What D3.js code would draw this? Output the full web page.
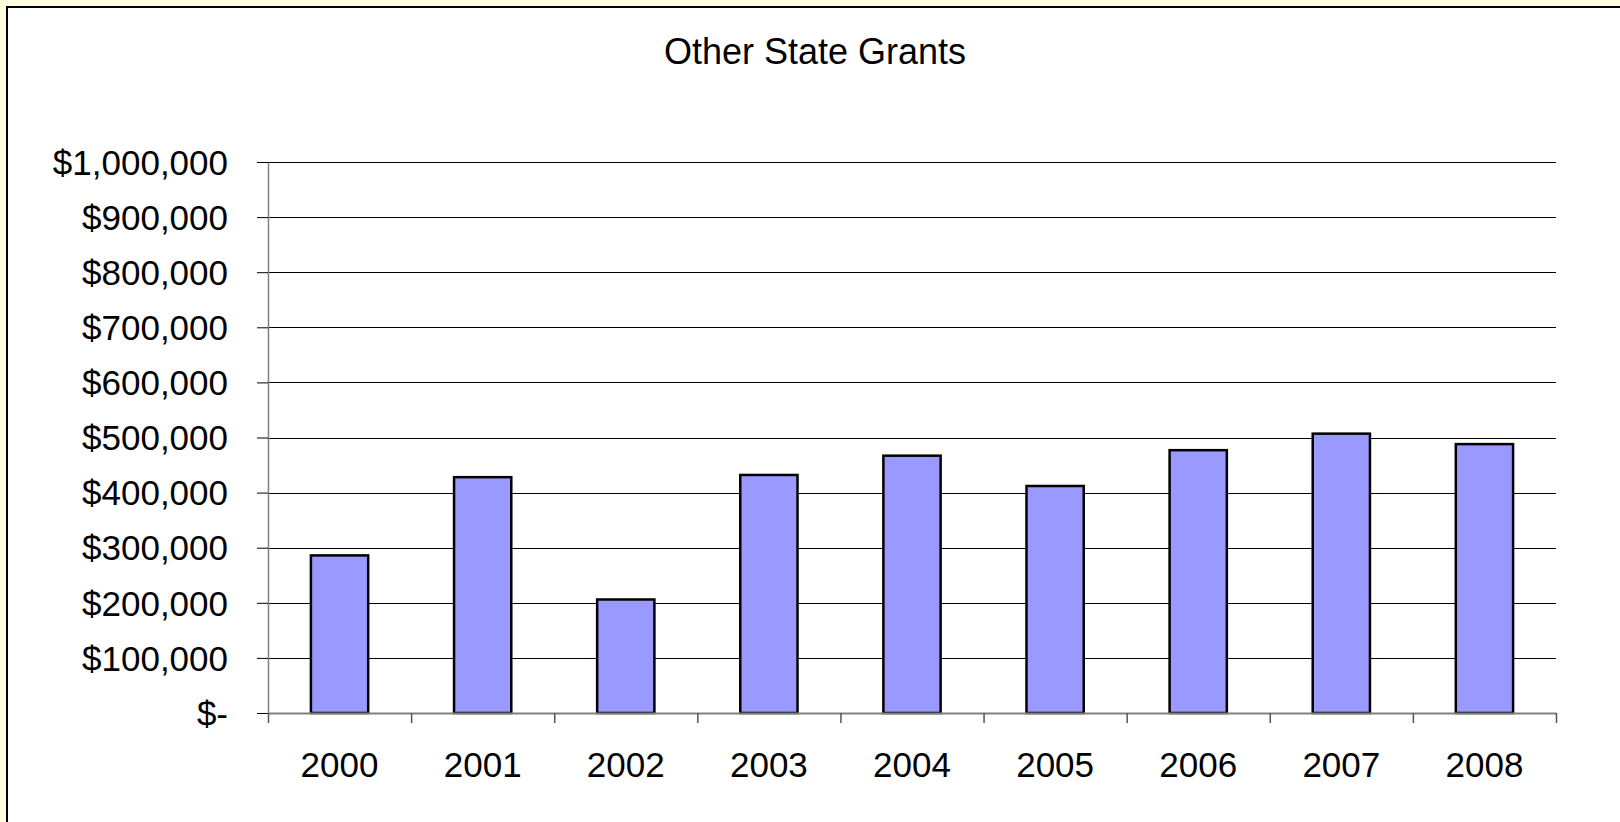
<!DOCTYPE html>
<html>
<head>
<meta charset="utf-8">
<script src="https://cdn.jsdelivr.net/npm/d3@7"></script>
<style>
  html, body { margin: 0; padding: 0; background: #FFFFE0; }
  svg { display: block; }
  text { font-family: "Liberation Sans", Arial, sans-serif; fill: #000; }
</style>
</head>
<body>
<svg id="chart" width="1620" height="822"></svg>
<script>
// Grant totals by year
const years = ['2000', '2001', '2002', '2003', '2004', '2005', '2006', '2007', '2008'];
const grantValues = [286000, 428000, 206000, 432000, 467000, 412000, 477000, 507000, 488000];
const yTicks = [0, 100000, 200000, 300000, 400000, 500000, 600000, 700000, 800000, 900000, 1000000];
const yTickLabels = ['$-', '$100,000', '$200,000', '$300,000', '$400,000', '$500,000',
                     '$600,000', '$700,000', '$800,000', '$900,000', '$1,000,000'];
const chartTitle = 'Other State Grants';

const W = 1620, H = 822;
const plot = { left: 268, right: 1556, top: 162, bottom: 713 };

const svg = d3.select('#chart');

// Chart area panel with a dark frame and soft shadow
svg.append('rect')
  .attr('x', 9).attr('y', 9).attr('width', W).attr('height', H)
  .attr('fill', '#888');
svg.append('rect')
  .attr('x', 7).attr('y', 7).attr('width', W).attr('height', H)
  .attr('fill', '#fff').attr('stroke', '#000').attr('stroke-width', 2);

// Title
svg.append('text')
  .attr('x', 815).attr('y', 64)
  .attr('text-anchor', 'middle')
  .style('font-size', '36px')
  .text(chartTitle);

const x = d3.scaleBand().domain(years).range([plot.left, plot.right]).padding(0);
const xEdges = d3.scaleLinear().domain([0, years.length]).range([plot.left, plot.right]);
const y = d3.scaleLinear().domain([0, 1000000]).range([plot.bottom, plot.top]);

// Horizontal gridlines
svg.append('g')
  .selectAll('line')
  .data(yTicks.filter(d => d > 0))
  .join('line')
  .attr('x1', plot.left).attr('x2', plot.right)
  .attr('y1', d => Math.round(y(d)) + 0.5).attr('y2', d => Math.round(y(d)) + 0.5)
  .attr('stroke', '#000').attr('stroke-width', 1);

// Bars (150% gap width)
const barW = x.bandwidth() / 2.5;
svg.append('g')
  .selectAll('rect')
  .data(years.map((yr, i) => ({ yr, v: grantValues[i] })))
  .join('rect')
  .attr('x', d => x(d.yr) + (x.bandwidth() - barW) / 2)
  .attr('y', d => y(d.v))
  .attr('width', barW)
  .attr('height', d => y(0) - y(d.v))
  .attr('fill', '#9999FF')
  .attr('stroke', '#000')
  .attr('stroke-width', 2.5);

// Y axis
const yAxis = svg.append('g')
  .attr('transform', `translate(${plot.left},0)`)
  .call(d3.axisLeft(y)
    .tickValues(yTicks)
    .tickFormat((d, i) => yTickLabels[i])
    .tickSize(11)
    .tickSizeOuter(0)
    .tickPadding(29));
yAxis.select('.domain').attr('stroke', '#808080').attr('stroke-width', 1.5);
yAxis.selectAll('.tick line').attr('stroke', '#000');
yAxis.selectAll('text').style('font-size', '35px').attr('dy', '0.35em');

// X axis: boundary ticks
const xTickAxis = svg.append('g')
  .attr('transform', `translate(0,${plot.bottom})`)
  .call(d3.axisBottom(xEdges)
    .tickValues(d3.range(years.length + 1))
    .tickFormat('')
    .tickSize(10)
    .tickSizeOuter(0));
xTickAxis.select('.domain').attr('stroke', '#808080').attr('stroke-width', 2);
xTickAxis.selectAll('.tick line').attr('stroke', '#555').attr('stroke-width', 1.5);

// X axis: category labels
const xLabelAxis = svg.append('g')
  .attr('transform', `translate(0,${plot.bottom})`)
  .call(d3.axisBottom(x).tickSize(0).tickPadding(39));
xLabelAxis.select('.domain').remove();
xLabelAxis.selectAll('text').style('font-size', '35px');
</script>
</body>
</html>
